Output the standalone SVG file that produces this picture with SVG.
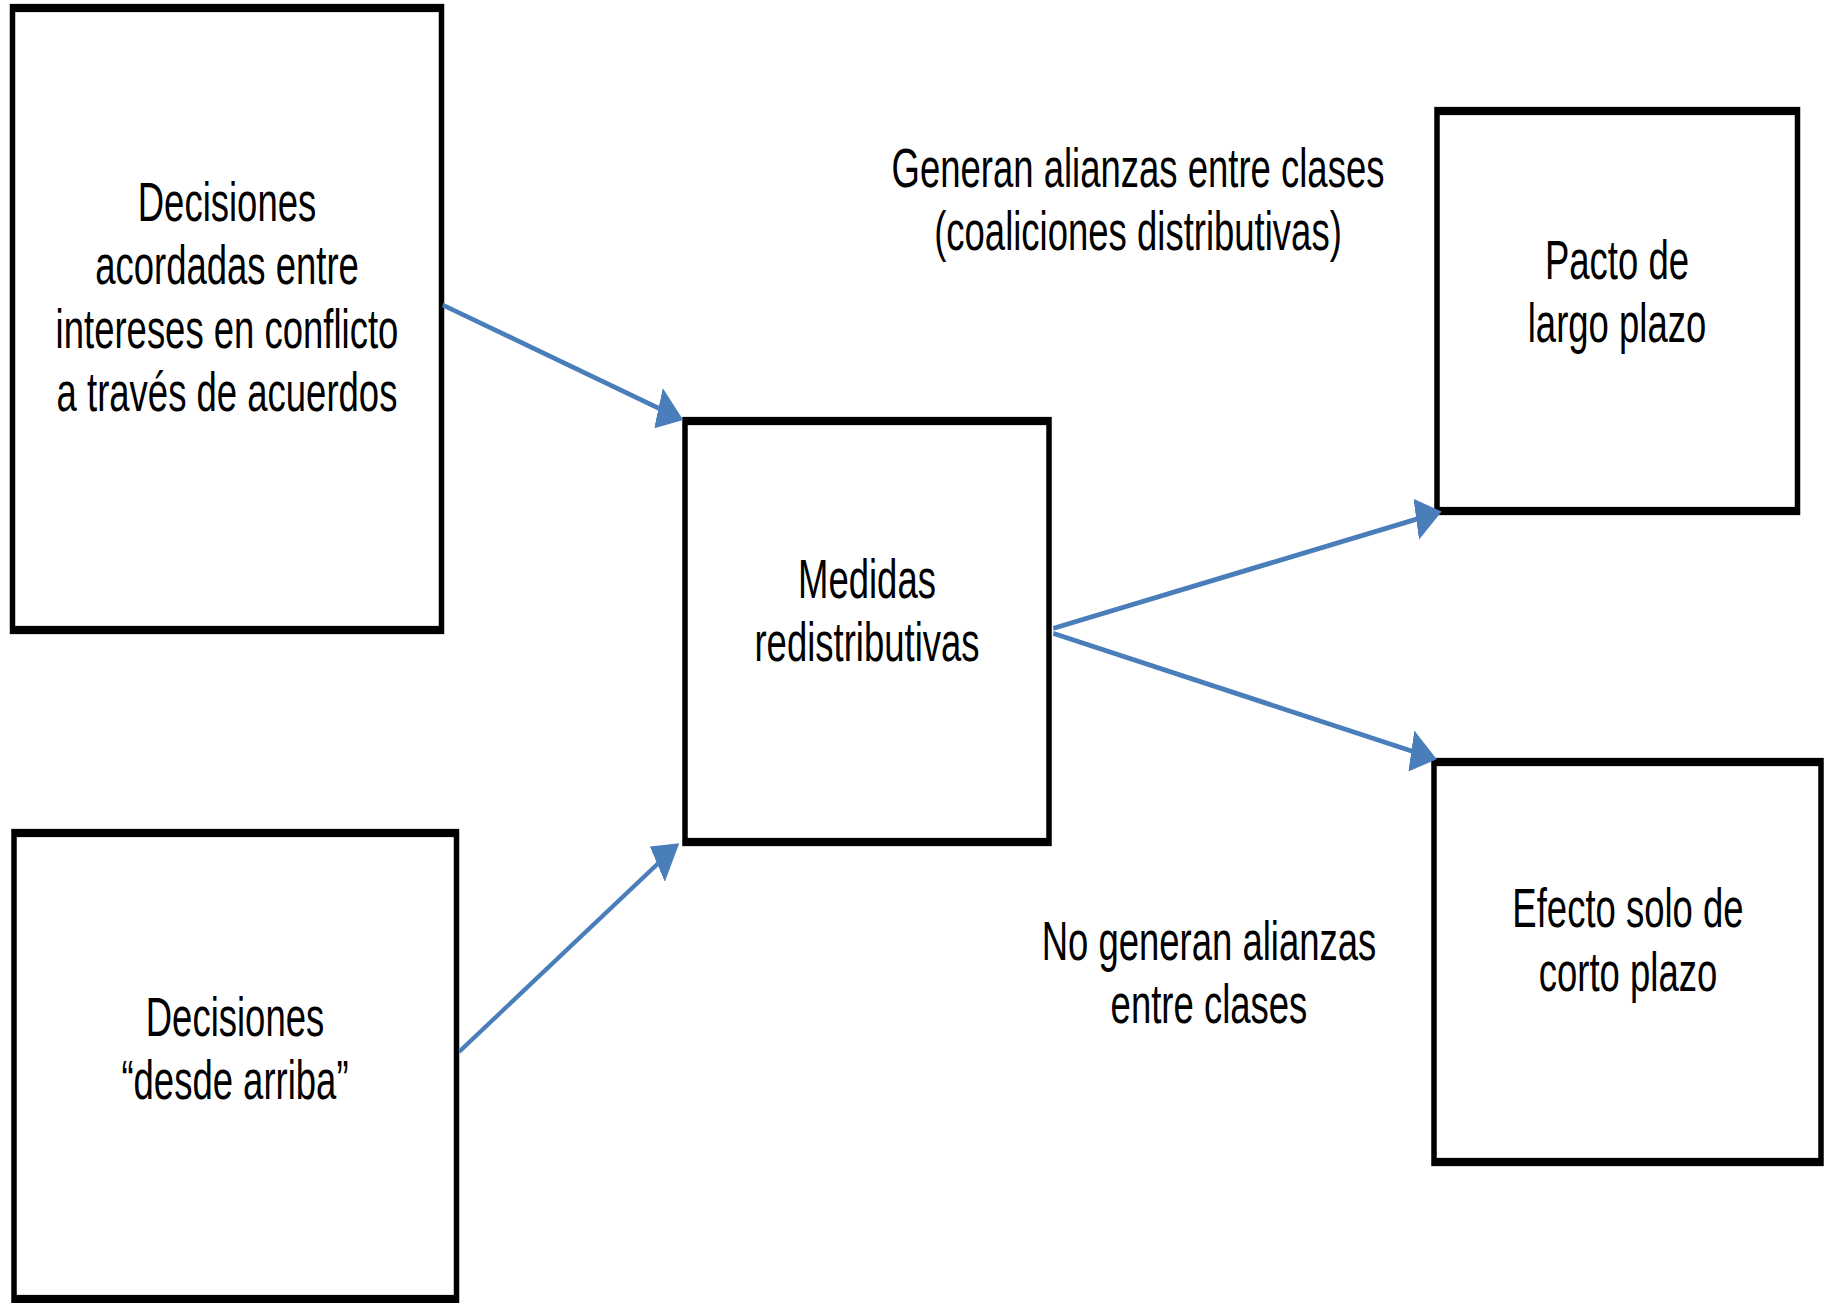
<svg xmlns="http://www.w3.org/2000/svg" width="1834" height="1303" viewBox="0 0 1834 1303">
<style>
.box{fill:#fff;stroke:#000;stroke-width:5.5}
.t{font-family:"Liberation Sans",Arial,sans-serif;font-size:36.5px;fill:#000;text-anchor:middle}
.c{fill:none;stroke:#4A7EBB;stroke-width:3.3}
</style>
<defs>
<marker id="ah" markerUnits="userSpaceOnUse" viewBox="0 0 26 28" markerWidth="26" markerHeight="28" refX="6" refY="14" orient="auto">
<path d="M0,0 L26,14 L0,28 Z" fill="#4A7EBB"/>
</marker>
</defs>
<rect width="1834" height="1303" fill="#fff"/>
<g transform="scale(1,1.5)">
<g id="n-acordadas">
<rect class="box" x="12.5" y="5.33" width="429" height="414.67"/>
<text class="t"><tspan x="227" y="147.3">Decisiones</tspan><tspan x="227" y="189.6">acordadas entre</tspan><tspan x="227" y="231.9">intereses en conflicto</tspan><tspan x="227" y="274.2">a través de acuerdos</tspan></text>
</g>
<g id="n-arriba">
<rect class="box" x="14" y="555.33" width="442.5" height="310.67"/>
<text class="t"><tspan x="235" y="690.6">Decisiones</tspan><tspan x="235" y="732.8">“desde arriba”</tspan></text>
</g>
<g id="n-medidas">
<rect class="box" x="685" y="280.67" width="364" height="280.67"/>
<text class="t"><tspan x="867" y="398.67">Medidas</tspan><tspan x="867" y="441">redistributivas</tspan></text>
</g>
<g id="n-pacto">
<rect class="box" x="1437" y="74" width="360.5" height="266.67"/>
<text class="t"><tspan x="1617" y="186">Pacto de</tspan><tspan x="1617" y="228.33">largo plazo</tspan></text>
</g>
<g id="n-efecto">
<rect class="box" x="1434" y="508" width="387" height="266.67"/>
<text class="t"><tspan x="1628" y="618.3">Efecto solo de</tspan><tspan x="1628" y="660.6">corto plazo</tspan></text>
</g>
<g id="connectors">
<line class="c" x1="442.7" y1="203.33" x2="664.2" y2="273.9" marker-end="url(#ah)"/>
<line class="c" x1="459.3" y1="701.1" x2="662.4" y2="572.9" marker-end="url(#ah)"/>
<line class="c" x1="1053.3" y1="418.9" x2="1422.1" y2="345.0" marker-end="url(#ah)"/>
<line class="c" x1="1053.3" y1="422.2" x2="1417.2" y2="501.9" marker-end="url(#ah)"/>
</g>
<g id="labels">
<text class="t"><tspan x="1138" y="124.5">Generan alianzas entre clases</tspan><tspan x="1138" y="166.5">(coaliciones distributivas)</tspan></text>
<text class="t"><tspan x="1209" y="640">No generan alianzas</tspan><tspan x="1209" y="682">entre clases</tspan></text>
</g>
</g>
</svg>
